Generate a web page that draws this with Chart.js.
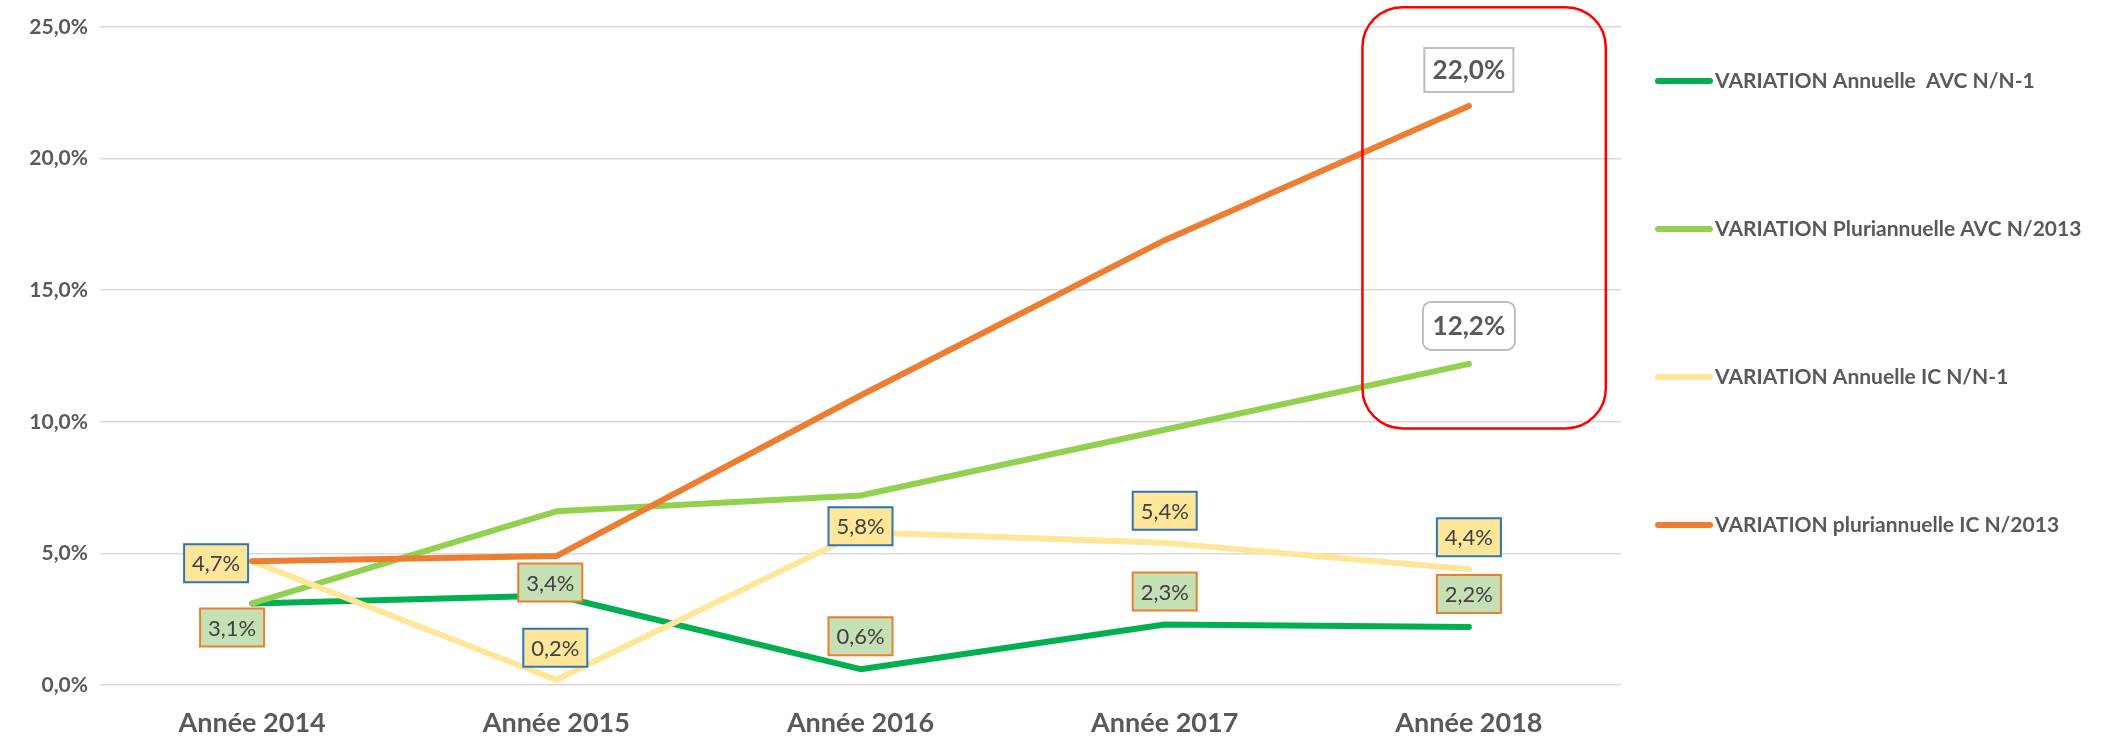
<!DOCTYPE html>
<html>
<head>
<meta charset="utf-8">
<script src="https://cdn.jsdelivr.net/npm/chart.js@4.4.0/dist/chart.umd.min.js"></script>
<style>
  html, body { margin: 0; padding: 0; background: #fff; }
  #wrap { width: 2114px; height: 738px; }
</style>
</head>
<body>
<div id="wrap"><canvas id="chart" width="2114" height="738"></canvas></div>
<script>
// data (percent)
const years = ['Année 2014', 'Année 2015', 'Année 2016', 'Année 2017', 'Année 2018'];
const avcAnnuelle = [3.1, 3.4, 0.6, 2.3, 2.2];
const avcPluri = [3.1, 6.6, 7.2, 9.7, 12.2];
const icAnnuelle = [4.7, 0.2, 5.8, 5.4, 4.4];
const icPluri = [4.7, 4.9, 11.0, 16.9, 22.0];
const yTicks = [0, 5, 10, 15, 20, 25];
const seriesNames = [
  'VARIATION Annuelle  AVC N/N-1',
  'VARIATION Pluriannuelle AVC N/2013',
  'VARIATION Annuelle IC N/N-1',
  'VARIATION pluriannuelle IC N/2013'
];

const FONT = 'Lato, "Liberation Sans", sans-serif';
const GREY = '#595959';
const fmt = v => v.toFixed(1).replace('.', ',') + '%';

// label boxes drawn next to the points
const smallFont = '22px ' + FONT;
const bigFont = 'bold 26px ' + FONT;
const boxStyles = {
  green: { font: smallFont, fill: '#C5E0B4', stroke: '#ED7D31', w: 64, h: 38, radius: 0,
           offsets: [[-20, 24], [-6, -13], [0, -33], [0, -33], [0, -33]] },
  yellow: { font: smallFont, fill: '#FFE699', stroke: '#2E75B6', w: 64, h: 38, radius: 0,
            offsets: [[-36, 2], [-1, -32], [0, -6], [0, -32], [0, -32]] },
  pluriAvc: { font: bigFont, fill: '#FFFFFF', stroke: '#BFBFBF', w: 92, h: 48, radius: 8,
              offsets: [null, null, null, null, [0, -38]] },
  pluriIc: { font: bigFont, fill: '#FFFFFF', stroke: '#BFBFBF', w: 89, h: 44, radius: 0,
             offsets: [null, null, null, null, [0, -36]] }
};

const labelBoxes = {
  id: 'labelBoxes',
  afterDatasetsDraw(chart) {
    const ctx = chart.ctx;
    chart.data.datasets.forEach((ds, i) => {
      const st = boxStyles[ds.boxStyle];
      if (!st) return;
      const meta = chart.getDatasetMeta(i);
      meta.data.forEach((pt, j) => {
        const off = st.offsets[j];
        if (!off) return;
        const cx = pt.x + off[0], cy = pt.y + off[1];
        ctx.save();
        ctx.beginPath();
        ctx.roundRect(cx - st.w / 2, cy - st.h / 2, st.w, st.h, st.radius);
        ctx.fillStyle = st.fill;
        ctx.fill();
        ctx.lineWidth = 2;
        ctx.strokeStyle = st.stroke;
        ctx.stroke();
        ctx.font = st.font;
        ctx.fillStyle = st.fill === '#FFFFFF' ? GREY : '#404040';
        ctx.textAlign = 'center';
        ctx.textBaseline = 'middle';
        ctx.fillText(fmt(ds.data[j]), cx, cy + 1);
        ctx.restore();
      });
    });
  }
};

// red rounded frame around the 2018 values
const redFrame = {
  id: 'redFrame',
  afterDraw(chart) {
    const x = chart.scales.x, y = chart.scales.y;
    const left = x.getPixelForValue(3.65), right = x.getPixelForValue(4.45);
    const top = y.getPixelForValue(25.75), bottom = y.getPixelForValue(9.75);
    const ctx = chart.ctx;
    ctx.save();
    ctx.beginPath();
    ctx.roundRect(left, top, right - left, bottom - top, 40);
    ctx.lineWidth = 2.5;
    ctx.strokeStyle = '#FF0000';
    ctx.stroke();
    ctx.restore();
  }
};

// legend on the right, spread over the height like the original
const sideLegend = {
  id: 'sideLegend',
  afterDraw(chart) {
    const ctx = chart.ctx;
    const area = chart.chartArea;
    const x0 = area.right + 37;
    ctx.save();
    ctx.font = 'bold 21px ' + FONT;
    ctx.textBaseline = 'middle';
    chart.data.datasets.forEach((ds, i) => {
      const yy = area.top + 54 + i * 148;
      ctx.beginPath();
      ctx.moveTo(x0, yy);
      ctx.lineTo(x0 + 52, yy);
      ctx.lineWidth = 6;
      ctx.lineCap = 'round';
      ctx.strokeStyle = ds.borderColor;
      ctx.stroke();
      ctx.fillStyle = GREY;
      ctx.fillText(ds.label, x0 + 57, yy);
    });
    ctx.restore();
  }
};

const lineDefaults = { borderWidth: 6, pointRadius: 0, tension: 0, fill: false, borderCapStyle: 'round', borderJoinStyle: 'round' };

new Chart(document.getElementById('chart'), {
  type: 'line',
  data: {
    labels: years,
    datasets: [
      { ...lineDefaults, label: seriesNames[0], data: avcAnnuelle, borderColor: '#00B050', boxStyle: 'green', order: 4 },
      { ...lineDefaults, label: seriesNames[1], data: avcPluri, borderColor: '#92D050', boxStyle: 'pluriAvc', order: 3 },
      { ...lineDefaults, label: seriesNames[2], data: icAnnuelle, borderColor: '#FFE699', boxStyle: 'yellow', order: 2 },
      { ...lineDefaults, label: seriesNames[3], data: icPluri, borderColor: '#ED7D31', boxStyle: 'pluriIc', order: 1 }
    ]
  },
  options: {
    responsive: false,
    animation: false,
    layout: { padding: { top: 27, right: 493, bottom: 0, left: 0 } },
    plugins: {
      legend: { display: false },
      tooltip: { enabled: false }
    },
    scales: {
      x: {
        offset: true,
        grid: { display: false, drawTicks: false },
        border: { display: false },
        ticks: { color: GREY, font: { family: FONT, size: 27, weight: 'bold' }, padding: 22 },
        afterFit: axis => { axis.height = 53; }
      },
      y: {
        min: 0,
        max: 25,
        afterBuildTicks: axis => { axis.ticks = yTicks.map(v => ({ value: v })); },
        grid: { color: '#D9D9D9', lineWidth: 1.5, drawTicks: false },
        border: { display: false },
        ticks: { color: GREY, font: { family: FONT, size: 21, weight: 'bold' }, padding: 12, callback: v => fmt(v) },
        afterFit: axis => { axis.width = 100; }
      }
    }
  },
  plugins: [labelBoxes, redFrame, sideLegend]
});
</script>
</body>
</html>
